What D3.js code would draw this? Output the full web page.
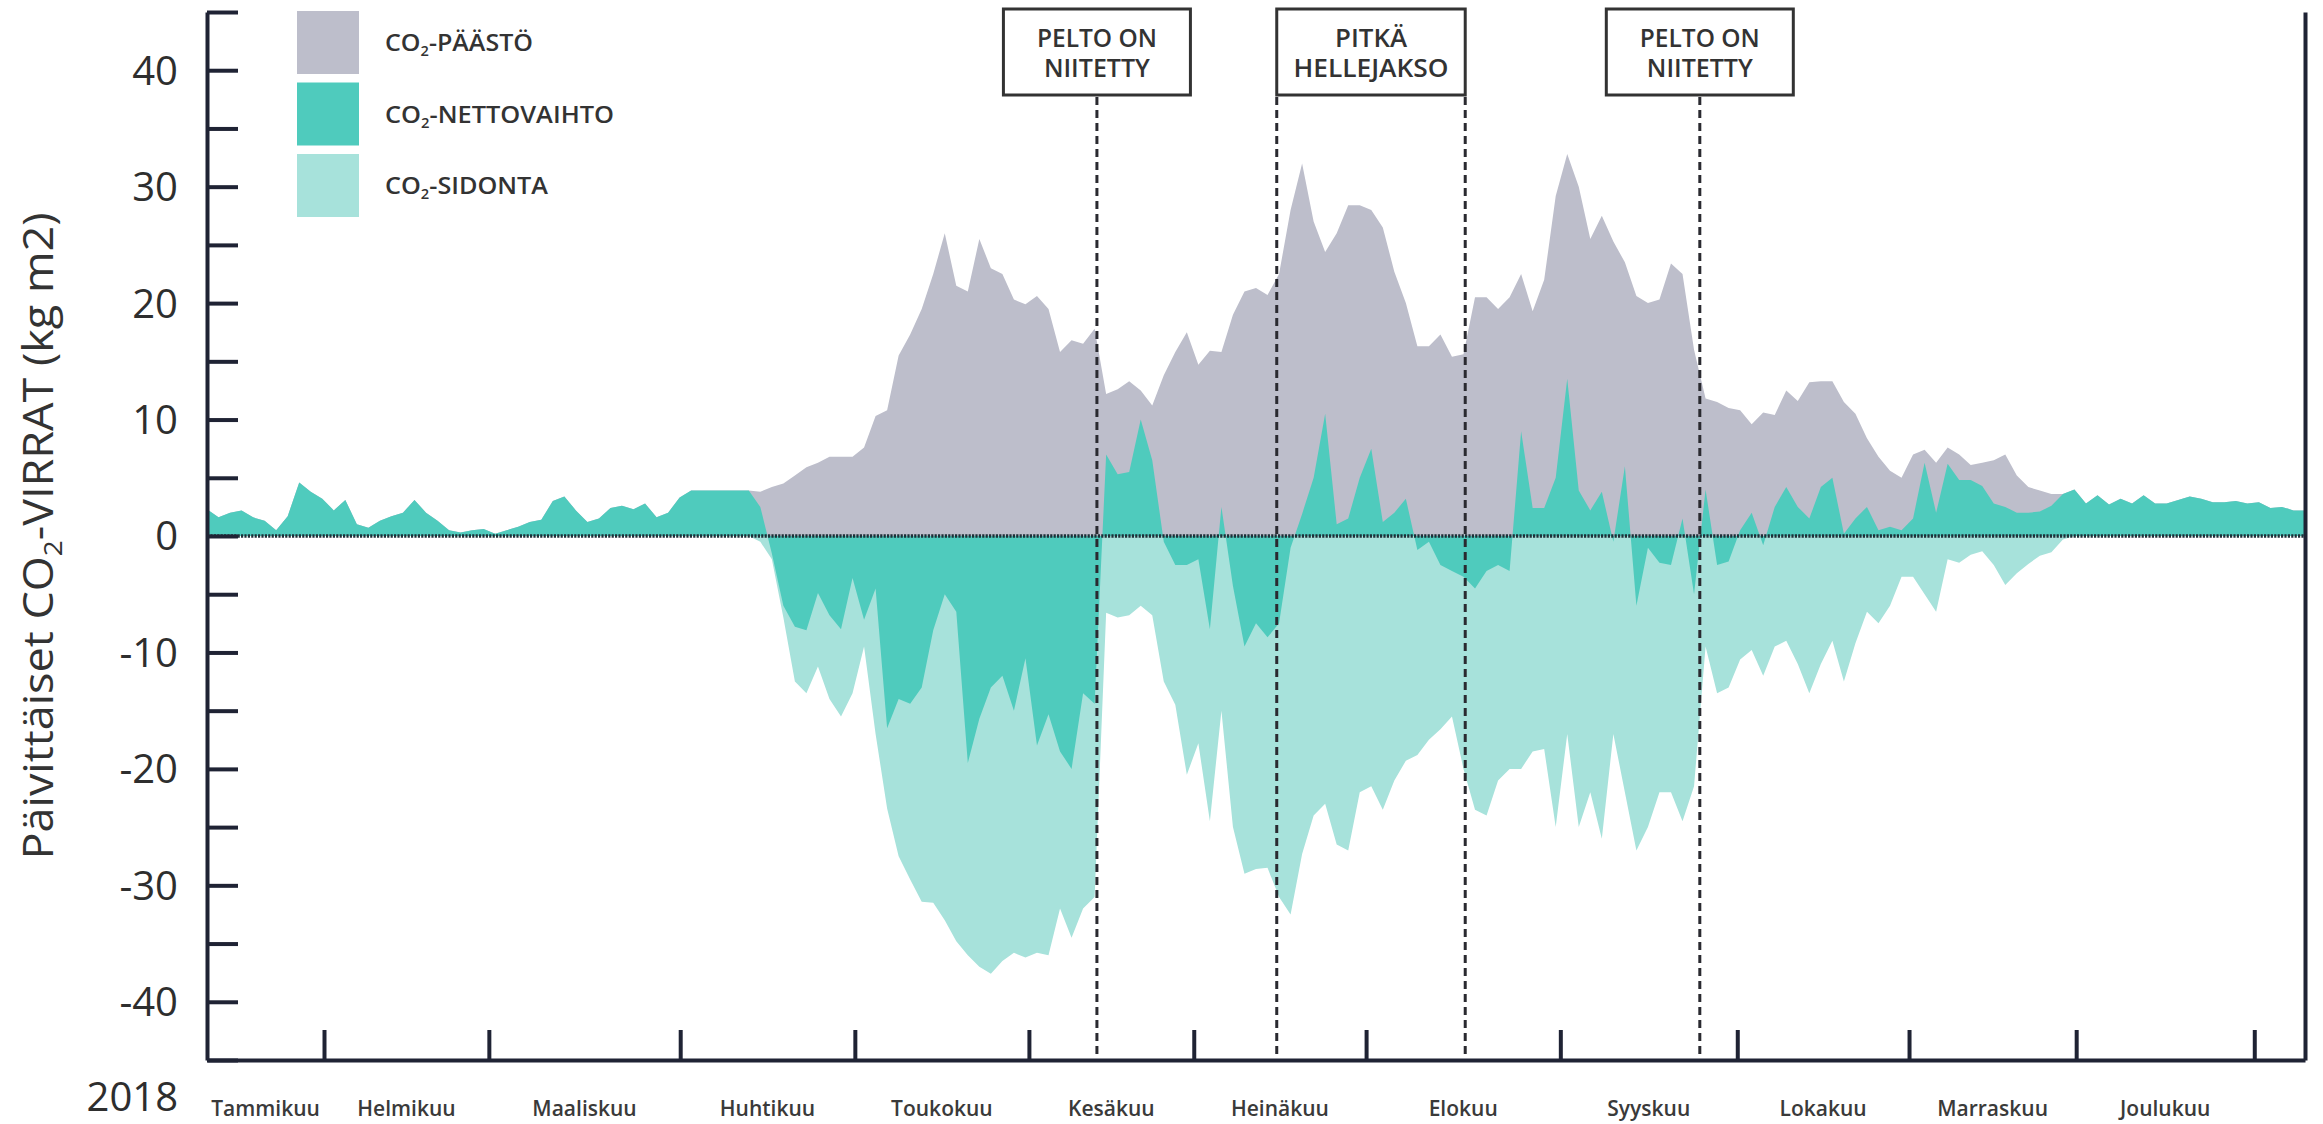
<!DOCTYPE html>
<html><head><meta charset="utf-8">
<script src="https://cdn.jsdelivr.net/npm/d3@7"></script>
<style>
body{margin:0;background:#fff;}
svg{display:block;}
text{font-family:"Open Sans","DejaVu Sans",sans-serif;}
</style>
</head><body>
<svg id="chart" width="2323" height="1124"></svg>
<script>
// ---- DATA (daily CO2 fluxes 2018, sampled every 2 days) ----
const dayStep = 2;
const emission = [
 2.3,1.6,2.0,2.2,1.6,1.3,0.5,1.7,4.6,3.8,
 3.2,2.2,3.1,1.0,0.7,1.3,1.7,2.0,3.1,2.0,
 1.3,0.5,0.3,0.5,0.6,0.2,0.5,0.8,1.2,1.4,
 3.0,3.4,2.2,1.2,1.5,2.4,2.6,2.3,2.8,1.6,
 2.0,3.3,3.9,3.9,3.9,3.9,3.9,3.9,3.8,4.2,
 4.5,5.2,5.9,6.3,6.8,6.8,6.8,7.6,10.3,10.8,
 15.5,17.3,19.5,22.5,26.0,21.5,21.0,25.5,23.0,22.5,
 20.3,19.9,20.6,19.5,15.8,16.8,16.5,17.8,12.2,12.6,
 13.3,12.5,11.2,13.8,15.8,17.5,14.7,15.9,15.8,19.0,
 21.0,21.3,20.7,22.5,28.0,32.0,27.0,24.4,26.0,28.4,
 28.4,28.0,26.5,22.7,20.0,16.3,16.3,17.3,15.4,15.6,
 20.5,20.5,19.5,20.5,22.5,19.3,22.0,29.2,32.8,30.0,
 25.5,27.5,25.3,23.5,20.6,20.0,20.3,23.4,22.5,16.0,
 11.8,11.5,11.0,10.8,9.6,10.6,10.4,12.5,11.6,13.2,
 13.3,13.3,11.5,10.5,8.4,6.8,5.6,5.0,7.0,7.4,
 6.3,7.6,7.0,6.1,6.3,6.5,7.0,5.2,4.2,3.9,
 3.6,3.6,4.0,2.8,3.5,2.7,3.2,2.8,3.5,2.8,
 2.8,3.1,3.4,3.2,2.9,2.9,3.0,2.8,2.9,2.4,
 2.5,2.2,2.2
];
const uptake = [
 0,0,0,0,0,0,0,0,0,0,
 0,0,0,0,0,0,0,0,0,0,
 0,0,0,0,0,0,0,0,0,0,
 0,0,0,0,0,0,0,0,0,0,
 0,0,0,0,0,0,0,0,-0.5,-2.0,
 -7.0,-12.5,-13.5,-11.2,-14.0,-15.5,-13.5,-9.5,-17.0,-23.4,
 -27.5,-29.5,-31.4,-31.5,-33.0,-34.8,-36.0,-37.0,-37.6,-36.5,
 -35.8,-36.2,-35.8,-36.0,-32.0,-34.5,-32.0,-31.0,-6.6,-7.0,
 -6.8,-6.0,-6.8,-12.5,-14.5,-20.5,-17.8,-24.5,-15.0,-25.0,
 -29.0,-28.6,-28.5,-31.0,-32.5,-27.3,-24.0,-23.0,-26.5,-27.0,
 -22.0,-21.5,-23.5,-21.0,-19.3,-18.8,-17.5,-16.6,-15.5,-20.0,
 -23.5,-24.0,-21.0,-20.0,-20.0,-18.5,-18.3,-25.0,-17.0,-25.0,
 -22.0,-26.0,-17.0,-22.0,-27.0,-25.0,-22.0,-22.0,-24.5,-21.5,
 -9.5,-13.5,-13.0,-10.6,-9.8,-12.0,-9.5,-9.0,-11.0,-13.5,
 -11.0,-9.0,-12.5,-9.2,-6.5,-7.5,-6.0,-3.5,-3.5,-5.0,
 -6.5,-2.0,-2.3,-1.6,-1.3,-2.5,-4.2,-3.2,-2.4,-1.7,
 -1.4,-0.3,0,0,0,0,0,0,0,0,
 0,0,0,0,0,0,0,0,0,0,
 0,0,0
];
const netExchange = [
 2.3,1.6,2.0,2.2,1.6,1.3,0.5,1.7,4.6,3.8,
 3.2,2.2,3.1,1.0,0.7,1.3,1.7,2.0,3.1,2.0,
 1.3,0.5,0.3,0.5,0.6,0.2,0.5,0.8,1.2,1.4,
 3.0,3.4,2.2,1.2,1.5,2.4,2.6,2.3,2.8,1.6,
 2.0,3.3,3.9,3.9,3.9,3.9,3.9,3.9,2.5,-1.5,
 -6.0,-7.8,-8.1,-4.9,-6.8,-8.0,-3.6,-7.2,-4.5,-16.5,
 -14.0,-14.4,-13.0,-8.1,-5.0,-6.5,-19.5,-15.7,-13.0,-12.0,
 -15.0,-10.5,-18.0,-15.3,-18.5,-20.0,-13.5,-14.4,7.0,5.3,
 5.5,10.0,6.5,-0.5,-2.5,-2.5,-2.0,-8.0,2.5,-4.3,
 -9.5,-7.5,-8.7,-7.5,-1.0,1.9,5.0,10.5,1.0,1.5,
 5.0,7.5,1.2,2.0,3.2,-1.2,-0.5,-2.5,-3.0,-3.5,
 -4.5,-3.0,-2.5,-3.0,9.0,2.4,2.4,5.0,13.5,3.9,
 2.2,3.8,-0.5,6.0,-6.0,-1.0,-2.3,-2.5,1.5,-5.0,
 4.0,-2.5,-2.2,0.5,2.0,-0.8,2.5,4.2,2.5,1.5,
 4.2,5.0,0.2,1.5,2.5,0.5,0.8,0.5,1.5,6.3,
 2.0,6.2,4.8,4.8,4.3,2.8,2.5,2.0,2.0,2.1,
 2.6,3.6,4.0,2.8,3.5,2.7,3.2,2.8,3.5,2.8,
 2.8,3.1,3.4,3.2,2.9,2.9,3.0,2.8,2.9,2.4,
 2.5,2.2,2.2
];
const days = emission.map((_, i) => i * dayStep);

const monthLabels = ["Tammikuu","Helmikuu","Maaliskuu","Huhtikuu","Toukokuu","Kesäkuu",
  "Heinäkuu","Elokuu","Syyskuu","Lokakuu","Marraskuu","Joulukuu"];
const monthTickDays = [20.3,48.9,82.1,112.4,142.6,171.2,201.1,234.8,265.5,295.3,324.3,355.2];
const yearLabel = "2018";
const yMajorTicks = [-40,-30,-20,-10,0,10,20,30,40];
const yAllTicks = [-45,-40,-35,-30,-25,-20,-15,-10,-5,0,5,10,15,20,25,30,35,40,45];
const eventDays = [154.4,185.6,218.3,259.0];
const annotations = [
  {lines:["PELTO ON","NIITETTY"], from:154.4, to:154.4, widths:[120,106]},
  {lines:["PITKÄ","HELLEJAKSO"], from:185.6, to:218.3, widths:[72,155]},
  {lines:["PELTO ON","NIITETTY"], from:259.0, to:259.0, widths:[120,106]}
];
const legendItems = [
  {key:"emission", pre:"CO", post:"-PÄÄSTÖ", width:148},
  {key:"net", pre:"CO", post:"-NETTOVAIHTO", width:229},
  {key:"uptake", pre:"CO", post:"-SIDONTA", width:163}
];
const yTitle = {pre:"Päivittäiset CO", sub:"2", post:"-VIRRAT (kg m2)"};

// ---- STYLE ----
const colors = {emission:"#bdbecb", net:"#4fcbbd", uptake:"#a7e2db"};
const axisColor = "#1f2334";
const textColor = "#333333";

const svg = d3.select("#chart");
const x = d3.scaleLinear().domain([0, 364]).range([207, 2305]);
const y = d3.scaleLinear().domain([-45, 45]).range([1060, 12]);

const pts = days.map((d, i) => ({d, e: emission[i], u: uptake[i], n: netExchange[i]}));
const area = key => d3.area().x(p => x(p.d)).y0(y(0)).y1(p => y(p[key]));

svg.append("path").datum(pts).attr("d", area("e")).attr("fill", colors.emission);
svg.append("path").datum(pts).attr("d", area("u")).attr("fill", colors.uptake);
svg.append("path").datum(pts).attr("d", area("n")).attr("fill", colors.net);

// zero line (dotted)
svg.append("line")
  .attr("x1", x(0)).attr("x2", x(364)).attr("y1", y(0)).attr("y2", y(0))
  .attr("stroke", "#1d3038").attr("stroke-width", 3.5).attr("stroke-dasharray", "2.2,1.2");

// event dashed lines
svg.selectAll(".ev").data(eventDays).enter().append("line")
  .attr("x1", d => x(d)).attr("x2", d => x(d))
  .attr("y1", 97).attr("y2", y(-45))
  .attr("stroke", "#2a2a30").attr("stroke-width", 3).attr("stroke-dasharray", "8,5");

// annotation boxes
const boxW = 187;
annotations.forEach(a => {
  const cx = (x(a.from) + x(a.to)) / 2;
  const w = a.from === a.to ? boxW : (x(a.to) - x(a.from));
  svg.append("rect").attr("x", cx - w/2).attr("y", 9).attr("width", w).attr("height", 86)
    .attr("fill", "#fff").attr("stroke", "#333").attr("stroke-width", 3);
  a.lines.forEach((ln, j) => {
    svg.append("text").attr("x", cx).attr("y", 46.5 + j*30.5)
      .attr("text-anchor", "middle").attr("font-size", 25).attr("font-weight", 600)
      .attr("fill", textColor)
      .attr("textLength", a.widths[j]).attr("lengthAdjust", "spacingAndGlyphs")
      .text(ln);
  });
});

// y axis
const yAxis = svg.append("g").attr("transform", `translate(${x(0)},0)`)
  .call(d3.axisRight(y).tickValues(yAllTicks).tickSize(31).tickSizeOuter(0).tickFormat(""));
yAxis.selectAll("path,line").attr("stroke", axisColor).attr("stroke-width", 4);

svg.selectAll(".ylab").data(yMajorTicks).enter().append("text")
  .attr("x", 178).attr("y", d => y(d)).attr("dy", "0.36em")
  .attr("text-anchor", "end").attr("font-size", 40).attr("fill", "#2e2e2e")
  .text(d => d);

// right frame
const rAxis = svg.append("g").attr("transform", `translate(${x(364)},0)`)
  .call(d3.axisLeft(y).tickValues([]).tickSizeOuter(0));
rAxis.selectAll("path").attr("stroke", axisColor).attr("stroke-width", 4);

// x axis
const xAxis = svg.append("g").attr("transform", `translate(0,${y(-45)})`)
  .call(d3.axisTop(x).tickValues(monthTickDays).tickSize(30).tickSizeOuter(0).tickFormat(""));
xAxis.selectAll("path,line").attr("stroke", axisColor).attr("stroke-width", 4);

const bounds = [0, ...monthTickDays];
svg.selectAll(".mlab").data(monthLabels).enter().append("text")
  .attr("x", (d, i) => x((bounds[i] + bounds[i+1]) / 2)).attr("y", 1116)
  .attr("text-anchor", "middle").attr("font-size", 21).attr("font-weight", 600)
  .attr("fill", "#3a3a3a").text(d => d);

svg.append("text").attr("x", 178).attr("y", 1111).attr("text-anchor", "end")
  .attr("font-size", 40).attr("fill", "#2e2e2e").text(yearLabel);

// y title
const yt = svg.append("text").attr("transform", "translate(53,536) rotate(-90)")
  .attr("text-anchor", "middle").attr("font-size", 42).attr("fill", "#333")
  .attr("textLength", 647).attr("lengthAdjust", "spacingAndGlyphs");
yt.append("tspan").text(yTitle.pre);
yt.append("tspan").attr("font-size", 26).attr("dy", 9).text(yTitle.sub);
yt.append("tspan").attr("dy", -9).text(yTitle.post);

// legend
legendItems.forEach((it, i) => {
  const top = 11 + i * 71.5;
  svg.append("rect").attr("x", 297).attr("y", top).attr("width", 62).attr("height", 63)
    .attr("fill", colors[it.key]);
  const t = svg.append("text").attr("x", 385).attr("y", top + 31.5 + 8.5)
    .attr("font-size", 24).attr("font-weight", 600).attr("fill", textColor)
    .attr("textLength", it.width).attr("lengthAdjust", "spacingAndGlyphs");
  t.append("tspan").text(it.pre);
  t.append("tspan").attr("font-size", 14).attr("dy", 5).text("2");
  t.append("tspan").attr("dy", -5).text(it.post);
});
</script>
</body></html>
